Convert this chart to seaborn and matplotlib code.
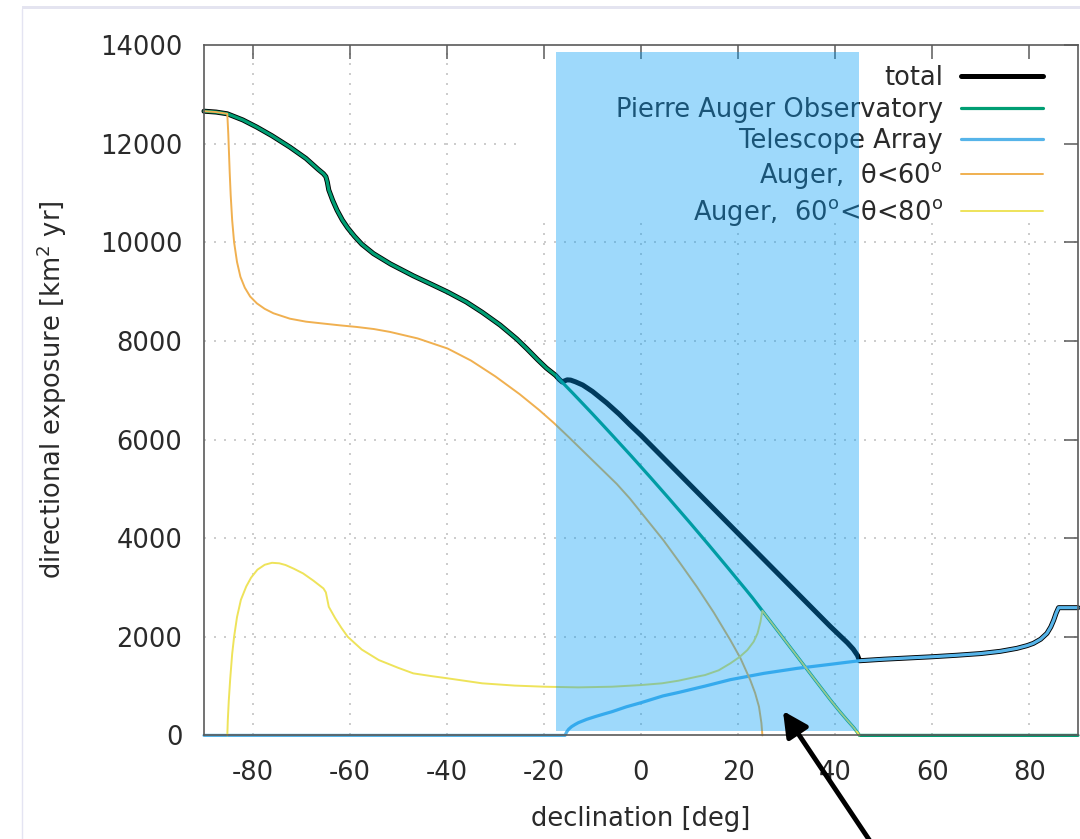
import matplotlib
matplotlib.use("Agg")
import matplotlib.pyplot as plt
from matplotlib.patches import Rectangle
from matplotlib.lines import Line2D
import seaborn as sns

# ---------------------------------------------------------------------------
# Directional exposure [km^2 yr] versus declination [deg]
# ---------------------------------------------------------------------------

# Southern part where the total is the Auger exposure alone
south_dec = [-90, -87.5, -85.2, -82, -79.1, -76, -72.3, -69, -66.5, -65.4,
             -64.9, -64.6, -64.3, -63.5, -62.6, -61.5, -60.4, -59, -57.5, -55.1,
             -51.6, -46.9, -43, -39.8, -36, -32.7, -29, -25.6, -23.5, -21.3,
             -19.5, -17.6]
south_exposure = [12658, 12640, 12605, 12480, 12334, 12160, 11929, 11700, 11480, 11390,
                  11330, 11220, 11060, 10850, 10650, 10450, 10290, 10120, 9960, 9770,
                  9560, 9320, 9140, 8990, 8790, 8580, 8320, 8040, 7840, 7620,
                  7450, 7302]

# Northern part where the total is the Telescope Array exposure alone
north_dec = [45, 50, 55, 60, 65, 70, 74, 77.4, 79.5, 80.8,
             82.3, 83.6, 84.4, 85.0, 85.5, 86.0, 90]
north_exposure = [1514, 1545, 1570, 1595, 1625, 1660, 1705, 1765, 1820, 1866,
                  1950, 2069, 2200, 2338, 2480, 2590, 2590]

# Total exposure inside the overlap band
total_mid_dec = [-16.8, -16.2, -15.7, -15.2, -14.5, -13.5, -12, -10, -7.1, -4.5,
                 -2.3, 0, 4.6, 8, 11.5, 15, 18.4, 22, 25.3, 28.7,
                 32.2, 35.6, 39, 41, 42.5, 43.7, 44.6]
total_mid_exposure = [7215, 7165, 7190, 7210, 7205, 7170, 7105, 6975, 6745, 6515,
                      6300, 6085, 5628, 5290, 4942, 4594, 4256, 3898, 3570, 3232,
                      2884, 2546, 2208, 2020, 1880, 1750, 1620]

# Pierre Auger Observatory beyond the southern part
auger_mid_dec = [-16.2, -14, -12, -10, -8, -6, -4, -2, 0, 2,
                 4, 6, 8, 10, 12, 14, 16, 18, 20, 21.5,
                 23, 25, 28.5, 32.2, 35.5, 39, 40, 41, 42.5, 43.8,
                 44.7, 45, 90]
auger_mid_exposure = [7158, 6935, 6728, 6520, 6308, 6095, 5880, 5665, 5445, 5225,
                      5001, 4777, 4549, 4321, 4089, 3857, 3621, 3385, 3145, 2967,
                      2785, 2527, 2075, 1597, 1170, 721, 598, 478, 305, 160,
                      45, 0, 0]

# Telescope Array up to the northern part
ta_mid_dec = [-90, -15.65, -15.3, -14.9, -14.3, -13.6, -12.9, -11.2, -9.5, -7.7,
              -6.0, -3, 0, 2.2, 4.5, 7.7, 11.5, 13.2, 18.4, 25.3,
              32.2, 39, 42]
ta_mid_exposure = [0, 0, 70, 125, 177, 220, 258, 325, 379, 432,
                   480, 580, 663, 730, 800, 870, 960, 1000, 1130, 1258,
                   1360, 1441, 1478]

# Auger, zenith angle below 60 deg
low_theta_dec = [-90, -87.5, -85.2, -85.15, -85.0, -84.85, -84.7, -84.5, -84.2, -83.8,
                 -83.2, -82.5, -81.6, -80.5, -79.1, -77.5, -75.7, -72.3, -69, -65.4,
                 -62, -58.6, -55, -51.7, -46, -39.8, -35, -30, -25, -21,
                 -18, -15, -10, -5, -2.3, 1, 4.6, 8, 11.5, 15,
                 18.4, 20.5, 22.5, 23.5, 24.3, 24.8, 25.0]
low_theta_exposure = [12658, 12640, 12605, 12500, 12200, 11800, 11400, 10950, 10450, 10000,
                      9600, 9300, 9080, 8900, 8760, 8650, 8560, 8450, 8390, 8351,
                      8315, 8283, 8240, 8182, 8050, 7844, 7600, 7280, 6920, 6600,
                      6340, 6060, 5580, 5100, 4804, 4400, 3960, 3500, 3014, 2490,
                      1933, 1562, 1123, 860, 582, 250, 0]

# Auger, zenith angle between 60 and 80 deg
high_theta_dec = [-85.2, -85.1, -84.9, -84.6, -84.2, -83.8, -83.2, -82.4, -81.3, -80.3,
                  -79, -77.5, -76, -74.5, -73.2, -71.5, -69.6, -67.5, -65.4, -64.9,
                  -64.3, -63, -61.7, -60.4, -57.5, -54, -50, -46.9, -43, -39.8,
                  -32.7, -26, -19.8, -12.9, -6, 0, 4.3, 7.7, 11.5, 13.2,
                  16, 18.4, 20.3, 21.9, 23.2, 24.0, 24.6, 24.8, 25, 28.5,
                  32.2, 35.5, 39, 40, 41, 42.5, 43.8, 44.7, 45]
high_theta_exposure = [0, 300, 700, 1150, 1650, 2000, 2400, 2750, 3020, 3200,
                       3360, 3460, 3500, 3490, 3455, 3380, 3285, 3140, 2980, 2900,
                       2608, 2380, 2180, 2000, 1740, 1528, 1370, 1258, 1200, 1157,
                       1056, 1010, 987, 974, 987, 1021, 1056, 1109, 1190, 1224,
                       1320, 1461, 1590, 1730, 1900, 2069, 2300, 2420, 2527, 2075,
                       1597, 1170, 721, 598, 478, 305, 160, 45, 0]

# Declination band shared by both observatories
band_dec = (-17.5, 44.9)
band_exposure = (95, 13868)

x_ticks = [-80, -60, -40, -20, 0, 20, 40, 60, 80]
y_ticks = [0, 2000, 4000, 6000, 8000, 10000, 12000, 14000]

labels = ["total", "Pierre Auger Observatory", "Telescope Array",
          r"Auger,  θ<60$^\mathrm{o}$", r"Auger,  60$^\mathrm{o}$<θ<80$^\mathrm{o}$"]

total_dec = south_dec + total_mid_dec + north_dec
total_exposure = south_exposure + total_mid_exposure + north_exposure
auger_dec = south_dec + auger_mid_dec
auger_exposure = south_exposure + auger_mid_exposure
ta_dec = ta_mid_dec + north_dec
ta_exposure = ta_mid_exposure + north_exposure

# ---------------------------------------------------------------------------
sns.set_style("white")
plt.rcParams["font.family"] = ["DejaVu Sans"]
plt.rcParams["mathtext.fontset"] = "dejavusans"
plt.rcParams["axes.unicode_minus"] = False

FS = 18.5
TXT = "#2a2a2a"
SPINE = "#5a5a5a"

fig = plt.figure(figsize=(10.8, 8.39), dpi=100)
ax = fig.add_axes([204 / 1080, 1 - 735.4 / 839, 874 / 1080, 690.4 / 839])

series = [
    (total_dec, total_exposure, "#000000", 3.6),
    (auger_dec, auger_exposure, "#009E73", 2.3),
    (ta_dec, ta_exposure, "#56B4E9", 2.3),
    (low_theta_dec, low_theta_exposure, "#F0B050", 1.4),
    (high_theta_dec, high_theta_exposure, "#EEE35A", 1.4),
]
handles = []
for i, (xs, ys, col, lw) in enumerate(series):
    sns.lineplot(x=xs, y=ys, ax=ax, color=col, linewidth=lw, estimator=None,
                 sort=False, clip_on=False, zorder=2 + 0.1 * i)
    handles.append(ax.lines[-1])

ax.set_xlim(-90, 90)
ax.set_ylim(0, 14000)
ax.set_xticks(x_ticks)
ax.set_yticks(y_ticks)
ax.set_axisbelow(True)

# dotted grid
for v in x_ticks:
    ax.axvline(v, color="#c4c4c4", lw=1.2, ls=(0, (1.2, 4.8)), zorder=0.3)
for h in y_ticks[1:-1]:
    ax.axhline(h, color="#c4c4c4", lw=1.2, ls=(0, (1.2, 4.8)), zorder=0.3)

# key background box
ax.add_patch(Rectangle((0.365, 0.7436), 0.635, 0.2564, transform=ax.transAxes,
                       facecolor="white", edgecolor="none", zorder=0.4))

for s in ax.spines.values():
    s.set_visible(True)
    s.set_color(SPINE)
    s.set_linewidth(1.2)
ax.tick_params(direction="in", length=10, width=1.1, color=SPINE,
               top=True, right=True, labelsize=FS, labelcolor=TXT)
ax.tick_params(axis="y", pad=15.5)
ax.tick_params(axis="x", pad=18)

ax.set_xlabel("declination [deg]", fontsize=FS, color=TXT)
ax.set_ylabel(r"directional exposure [km$^2$ yr]", fontsize=FS, color=TXT)
ax.xaxis.set_label_coords(0.5, -0.102)
ax.yaxis.set_label_coords(-0.155, 0.5)

leg = ax.legend(handles, labels, loc="upper right", bbox_to_anchor=(0.96, 0.971),
                bbox_transform=ax.transAxes, frameon=False, markerfirst=False,
                handlelength=3.2, handletextpad=0.7, labelspacing=0.22,
                borderpad=0, borderaxespad=0, fontsize=FS)
for t in leg.get_texts():
    t.set_color(TXT)
leg.set_zorder(5)

# highlighted declination band
ax.add_patch(Rectangle((band_dec[0], band_exposure[0]), band_dec[1] - band_dec[0],
                       band_exposure[1] - band_exposure[0],
                       facecolor=(0, 155 / 255, 245 / 255), alpha=0.38,
                       edgecolor="none", zorder=6))

# pointer arrow
ax.annotate("", xy=(783, 128), xycoords="figure pixels",
            xytext=(874, -8), textcoords="figure pixels",
            arrowprops=dict(arrowstyle="-|>,head_length=0.75,head_width=0.38",
                            mutation_scale=20, lw=3.5, color="black",
                            shrinkA=0, shrinkB=0),
            annotation_clip=False, zorder=7)

# page frame
fig.add_artist(Rectangle((22 / 1080, 1 - 9.3 / 839), 1 - 22 / 1080, 3.3 / 839,
                         transform=fig.transFigure, facecolor="#e4e4f0",
                         edgecolor="none"))
fig.add_artist(Line2D([22.4 / 1080, 22.4 / 1080], [0, 1 - 9.3 / 839],
                      transform=fig.transFigure, color="#e4e4f2", lw=1))

fig.savefig("out.png", dpi=100)
